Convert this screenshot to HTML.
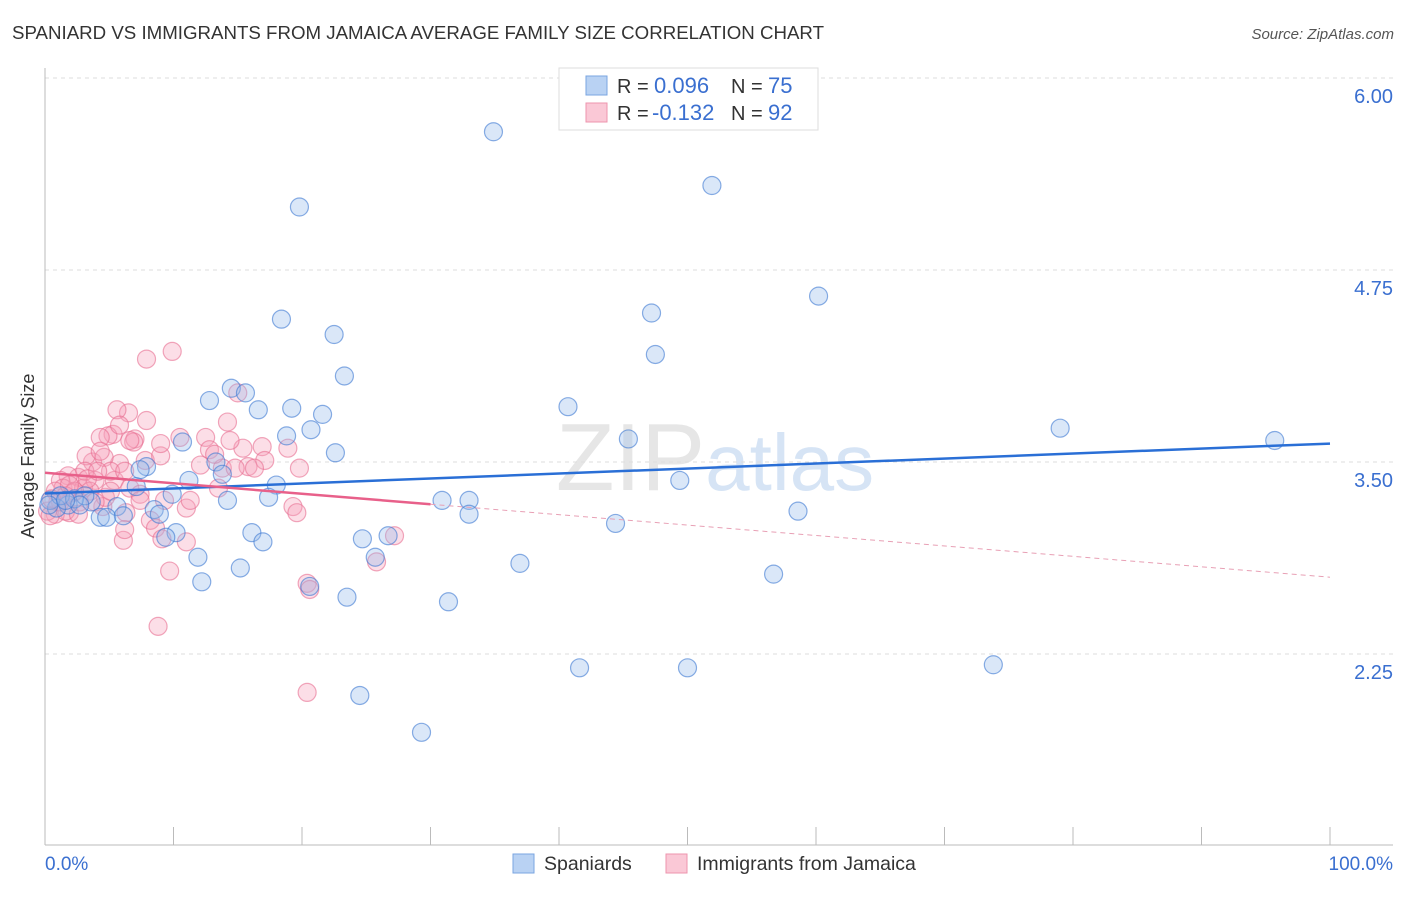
<!DOCTYPE html>
<html><head><meta charset="utf-8">
<style>
body{margin:0;background:#fff;font-family:"Liberation Sans",sans-serif;}
svg text{font-family:"Liberation Sans",sans-serif;}
</style></head>
<body>
<svg id="chart" width="1406" height="892" xmlns="http://www.w3.org/2000/svg">
<text x="12" y="39" font-size="18.7" fill="#333">SPANIARD VS IMMIGRANTS FROM JAMAICA AVERAGE FAMILY SIZE CORRELATION CHART</text>
<text x="1394" y="39" font-size="15" fill="#555" text-anchor="end" font-style="italic">Source: ZipAtlas.com</text>
<text x="715" y="490" font-size="96" fill="#e6e6e6" text-anchor="middle" font-family="Liberation Serif">ZIP<tspan fill="#d6e4f5" font-family="Liberation Sans" font-size="80">atlas</tspan></text>
<g id="grid"></g>
<text transform="translate(34,456) rotate(-90)" font-size="18" fill="#333" text-anchor="middle">Average Family Size</text>
<g id="marks"></g>
<g>
<rect x="559" y="68" width="259" height="62" fill="#fff" stroke="#ddd"/>
<rect x="586" y="76" width="21" height="19" fill="#b9d2f3" stroke="#7aa5e0"/>
<rect x="586" y="103" width="21" height="19" fill="#fac8d6" stroke="#ee94ae"/>
<text x="617" y="93" font-size="20" fill="#333">R = <tspan x="654" fill="#3a6fd0" font-size="22">0.096</tspan><tspan x="731">N = </tspan><tspan x="768" fill="#3a6fd0" font-size="22">75</tspan></text>
<text x="617" y="120" font-size="20" fill="#333">R = <tspan x="652" fill="#3a6fd0" font-size="22">-0.132</tspan><tspan x="731">N = </tspan><tspan x="768" fill="#3a6fd0" font-size="22">92</tspan></text>
</g>
<text x="45" y="870" font-size="19" fill="#3a6fd0">0.0%</text>
<text x="1393" y="870" font-size="19" fill="#3a6fd0" text-anchor="end">100.0%</text>
<g>
<rect x="513" y="854" width="21" height="19" fill="#b9d2f3" stroke="#7aa5e0"/>
<text x="544" y="870" font-size="19.5" fill="#333">Spaniards</text>
<rect x="666" y="854" width="21" height="19" fill="#fac8d6" stroke="#ee94ae"/>
<text x="697" y="870" font-size="19.5" fill="#333">Immigrants from Jamaica</text>
</g>
</svg>
<script>
const yTicks=[6.00,4.75,3.50,2.25];
const xTicks=[0,10,20,30,40,50,60,70,80,90,100];
const blueX=[34.9,51.9,19.8,60.2,18.4,22.5,47.2,47.5,23.3,14.5,15.6,12.8,16.6,19.2,21.6,40.7,79,95.7,45.4,10.7,18.8,20.7,22.6,13.3,7.9,13.8,11.2,18,49.4,7.1,17.4,9.9,14.2,30.9,33,33,58.6,5.6,3.6,1.8,0.9,0.4,4.3,4.8,6.1,8.5,8.9,10.2,9.4,16.1,16.96,24.7,26.7,44.4,11.9,25.7,36.96,15.2,12.2,56.7,20.6,23.5,31.4,41.6,50,73.8,24.5,29.3,1.2,2.3,0.3,3.1,7.4,2.7,1.6];
const blueY=[5.65,5.30,5.16,4.58,4.43,4.33,4.47,4.20,4.06,3.98,3.95,3.90,3.84,3.85,3.81,3.86,3.72,3.64,3.65,3.63,3.67,3.71,3.56,3.50,3.47,3.42,3.38,3.35,3.38,3.34,3.27,3.29,3.25,3.25,3.25,3.16,3.18,3.21,3.24,3.22,3.20,3.25,3.14,3.14,3.15,3.19,3.16,3.04,3.01,3.04,2.98,3.00,3.02,3.10,2.88,2.88,2.84,2.81,2.72,2.77,2.69,2.62,2.59,2.16,2.16,2.18,1.98,1.74,3.28,3.26,3.22,3.28,3.45,3.22,3.25];
const pinkX=[9.9,7.9,15,6.5,5.6,7.9,14.2,5.3,4.9,7,6.9,4.3,10.5,12.5,12.8,15.4,16.9,18.9,17.1,15.8,19.8,13.8,5.8,3.7,3.2,4.6,2.6,1.8,1.2,1.4,2.2,3,3.9,5.4,6.6,7.4,13.5,11,9.3,8.2,6.3,4.5,4.7,8.6,9.1,6.1,11,27.2,25.8,9.7,19.3,19.6,20.4,20.6,8.8,20.4,1.9,0.8,0.2,1,2.7,3.5,5.1,6.2,7.8,9,12.1,4.3,2.3,3.1,3.9,1.6,0.4,0.8,6.2,7.4,14.4,13.2,14.8,16.3,11.3,5.8,6.6,9,5.1,1.9,1.2,0.5,3.3,4.1,1.6,2.6];
const pinkY=[4.22,4.17,3.95,3.82,3.84,3.77,3.76,3.68,3.67,3.65,3.63,3.66,3.66,3.66,3.58,3.59,3.60,3.59,3.51,3.47,3.46,3.46,3.49,3.50,3.54,3.53,3.40,3.41,3.38,3.33,3.30,3.33,3.38,3.38,3.33,3.29,3.33,3.20,3.25,3.12,3.17,3.21,3.27,3.07,3.00,2.99,2.98,3.02,2.85,2.79,3.21,3.17,2.71,2.67,2.43,2.00,3.17,3.16,3.18,3.24,3.24,3.31,3.44,3.44,3.51,3.54,3.48,3.57,3.31,3.44,3.24,3.28,3.15,3.31,3.06,3.25,3.64,3.55,3.46,3.46,3.25,3.74,3.64,3.62,3.31,3.35,3.24,3.26,3.39,3.44,3.18,3.16];
const blueTrend=[[0,3.295],[100,3.62]];
const pinkTrend=[[0,3.43],[30,3.225],[100,2.75]];
const X=v=>45+v*12.85, Y=v=>462-(v-3.5)*153.6;
const NS="http://www.w3.org/2000/svg";
const grid=document.getElementById('grid'), marks=document.getElementById('marks');
function mk(tag,attrs,parent){const e=document.createElementNS(NS,tag);for(const k in attrs)e.setAttribute(k,attrs[k]);parent.appendChild(e);return e;}
yTicks.forEach(t=>{
 const l=mk('line',{x1:45,x2:1393,y1:Y(t),y2:Y(t),stroke:'#ddd','stroke-dasharray':'4,4'},grid);
 
 
 const tx=mk('text',{x:1393,y:Y(t)+25,'font-size':20,fill:'#3a6fd0','text-anchor':'end'},grid);
 tx.textContent=t.toFixed(2);
 
 
});
const ax=mk('line',{x1:45,x2:45,y1:68,y2:845,stroke:'#bbb'},grid);


const bx=mk('line',{x1:45,x2:1393,y1:845,y2:845,stroke:'#bbb'},grid);


xTicks.forEach(t=>{
 const l=mk('line',{x1:X(t),x2:X(t),y1:827,y2:845,stroke:'#bbb'},grid);
 
 
});
pinkX.forEach((x,i)=>{
 const c=mk('circle',{cx:X(x),cy:Y(pinkY[i]),r:9,fill:'rgba(246,160,185,0.35)',stroke:'rgba(232,110,145,0.6)','stroke-width':1.2},marks);
 
 
});
blueX.forEach((x,i)=>{
 const c=mk('circle',{cx:X(x),cy:Y(blueY[i]),r:9,fill:'rgba(150,185,235,0.35)',stroke:'rgba(60,120,210,0.6)','stroke-width':1.2},marks);
 
 
});
const bl=mk('line',{x1:X(blueTrend[0][0]),y1:Y(blueTrend[0][1]),x2:X(blueTrend[1][0]),y2:Y(blueTrend[1][1]),stroke:'#2a6fd6','stroke-width':2.5},marks);


const pl=mk('line',{x1:X(pinkTrend[0][0]),y1:Y(pinkTrend[0][1]),x2:X(pinkTrend[1][0]),y2:Y(pinkTrend[1][1]),stroke:'#e8608a','stroke-width':2.5},marks);


const pd=mk('line',{x1:X(pinkTrend[1][0]),y1:Y(pinkTrend[1][1]),x2:X(pinkTrend[2][0]),y2:Y(pinkTrend[2][1]),stroke:'#e8a0b5','stroke-width':1,'stroke-dasharray':'5,4'},marks);


</script>
</body></html>
